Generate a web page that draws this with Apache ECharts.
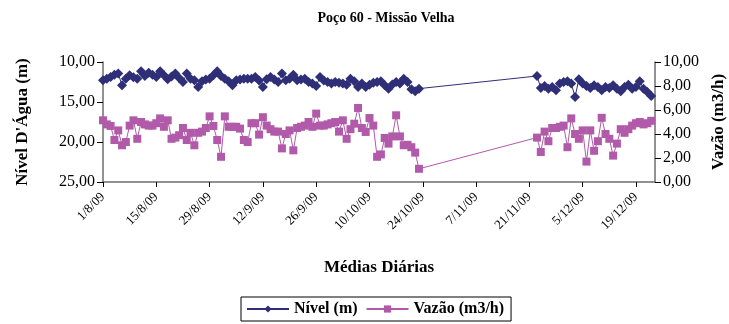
<!DOCTYPE html>
<html><head><meta charset="utf-8">
<script src="https://cdn.jsdelivr.net/npm/echarts@6/dist/echarts.min.js"></script>
<style>html,body{margin:0;padding:0;background:#fff}#c{width:729px;height:324px}</style>
</head><body><div id="c"></div>
<script>
const titleText = 'Poço 60 - Missão Velha';
const xName = 'Médias Diárias';
const leftName = "Nível D'Água (m)";
const rightName = 'Vazão (m3/h)';
const nivelName = 'Nível (m)';
const vazaoName = 'Vazão (m3/h)';

const axisStart = '2009-08-01';
const axisEnd = '2009-12-24';
const tickDays = 14;

// first block of daily means (consecutive days from seg1Start)
const seg1Start = '2009-08-01';
const nivel1 = [12.29,12.1,11.87,11.6,11.45,12.91,12.08,11.66,11.9,12.08,
  11.16,11.75,11.33,11.6,11.87,11.16,11.66,12.16,11.8,11.45,
  12.0,12.5,11.45,12.08,12.29,13.12,12.41,12.2,12.08,11.66,
  11.16,11.75,12.1,12.41,12.91,12.29,12.2,12.08,12.1,12.08,
  11.87,12.3,13.12,12.16,11.87,12.2,12.5,11.45,12.29,12.08,
  11.58,12.29,12.2,12.08,12.5,12.7,13.0,11.87,12.3,12.5,
  12.7,12.5,12.6,12.7,12.83,12.08,12.4,13.12,12.7,13.12,
  12.83,12.58,12.5,12.41,12.91,13.33,12.8,12.5,12.7,12.08,
  12.5,13.41,13.66,13.33];
const vazao1 = [5.14,4.8,4.67,3.5,4.3,3.06,3.33,4.7,5.14,3.6,
  5.0,4.8,4.7,4.7,4.9,5.3,4.6,5.14,3.6,3.7,
  3.9,4.5,3.5,4.1,3.06,4.1,4.2,4.5,5.47,4.67,
  3.5,2.1,5.47,4.6,4.6,4.6,4.45,3.5,3.33,4.9,
  4.9,3.95,5.4,4.7,4.4,4.2,4.2,2.8,4.0,4.3,
  2.64,4.5,4.6,4.7,5.0,4.6,5.7,4.7,4.7,4.8,
  4.9,5.0,4.2,5.14,3.6,4.4,4.86,6.17,4.5,4.17,
  5.33,4.7,2.1,2.3,3.67,3.2,3.8,5.56,3.8,3.06,
  3.1,2.9,2.45,1.1];

// second block of daily means
const seg2Start = '2009-11-23';
const nivel2 = [11.75,13.25,13.0,13.33,13.12,13.54,12.7,12.5,12.41,12.7,
  14.37,12.16,12.7,13.0,13.25,12.91,13.12,13.54,13.12,13.25,
  12.91,13.33,13.66,13.12,12.83,13.33,13.12,12.41,13.33,13.75,
  14.25];
const vazao2 = [3.7,2.5,4.2,3.4,4.5,4.5,4.6,4.7,2.9,5.3,
  4.0,3.6,4.3,1.7,4.3,2.6,3.4,5.35,4.0,3.6,
  2.2,3.2,4.4,4.1,4.4,4.7,4.9,5.0,4.8,4.9,
  5.1];

const leftMin = 10, leftMax = 25, leftStep = 5;
const rightMin = 0, rightMax = 10, rightStep = 2;

const DAY = 86400000;
function toUTC(s){ const p = s.split('-').map(Number); return Date.UTC(p[0], p[1]-1, p[2]); }
const t0 = toUTC(axisStart);
function dayOf(s){ return Math.round((toUTC(s) - t0) / DAY); }
function pairs(start, vals){ const d0 = dayOf(start); return vals.map((v,i)=>[d0+i, v]); }
function fmtDate(v){
  const d = new Date(t0 + v*DAY);
  return d.getUTCDate() + '/' + (d.getUTCMonth()+1) + '/' + String(d.getUTCFullYear()).slice(2);
}
function fmtNum(v){ return v.toFixed(2).replace('.', ','); }

const nivelData = pairs(seg1Start, nivel1).concat(pairs(seg2Start, nivel2));
const vazaoData = pairs(seg1Start, vazao1).concat(pairs(seg2Start, vazao2));

const FONT = 'Liberation Serif';
const NAVY = '#2f2f78';
const MAG = '#b25aaa';
const AX = '#6e6e6e';

const chart = echarts.init(document.getElementById('c'), null, {renderer:'canvas'});
chart.setOption({
  backgroundColor: '#ffffff',
  animation: false,
  textStyle: {fontFamily: FONT, color: '#000'},
  title: {
    text: titleText, left: 381, top: 6, textAlign: 'center',
    textStyle: {fontFamily: FONT, fontSize: 14, fontWeight: 'bold', color: '#000'}
  },
  grid: {left: 103, right: 74, top: 62, height: 120, containLabel: false, outerBoundsMode: 'none'},
  legend: {
    left: 241, top: 297, orient: 'horizontal',
    padding: [4, 7, 4, 5], itemGap: 8, itemWidth: 42, itemHeight: 9,
    borderColor: '#000', borderWidth: 1,
    textStyle: {fontFamily: FONT, fontSize: 16, fontWeight: 'bold', color: '#000'},
    data: [nivelName, vazaoName]
  },
  xAxis: {
    type: 'value', min: dayOf(axisStart), max: dayOf(axisEnd), interval: tickDays,
    name: xName, nameLocation: 'middle', nameGap: 77,
    nameTextStyle: {fontFamily: FONT, fontSize: 17, fontWeight: 'bold', color: '#000'},
    axisLine: {show: true, lineStyle: {color: AX, width: 1.5}},
    axisTick: {show: true, inside: false, length: 5, lineStyle: {color: '#000'}},
    splitLine: {show: false},
    axisLabel: {
      rotate: 45, margin: 13, fontFamily: FONT, fontSize: 13, color: '#000',
      showMaxLabel: false,
      formatter: v => (v % tickDays === 0 ? fmtDate(v) : '')
    }
  },
  yAxis: [{
    type: 'value', position: 'left', inverse: true,
    min: leftMin, max: leftMax, interval: leftStep,
    name: leftName, nameLocation: 'middle', nameGap: 72, nameRotate: 90,
    nameTextStyle: {fontFamily: FONT, fontSize: 17, fontWeight: 'bold', color: '#000'},
    axisLine: {show: true, lineStyle: {color: AX, width: 1.5}},
    axisTick: {show: true, inside: false, length: 6, lineStyle: {color: '#000'}},
    splitLine: {show: false},
    axisLabel: {margin: 8, fontFamily: FONT, fontSize: 16, color: '#000', formatter: fmtNum}
  }, {
    type: 'value', position: 'right',
    min: rightMin, max: rightMax, interval: rightStep,
    name: rightName, nameLocation: 'middle', nameGap: 53, nameRotate: 90,
    nameTextStyle: {fontFamily: FONT, fontSize: 17, fontWeight: 'bold', color: '#000'},
    axisLine: {show: true, lineStyle: {color: AX, width: 1.5}},
    axisTick: {show: true, inside: false, length: 6, lineStyle: {color: '#000'}},
    splitLine: {show: false},
    axisLabel: {margin: 8, fontFamily: FONT, fontSize: 16, color: '#000', formatter: fmtNum}
  }],
  series: [{
    name: nivelName, type: 'line', yAxisIndex: 0, data: nivelData,
    symbol: 'diamond', symbolSize: 10, showAllSymbol: true,
    lineStyle: {color: NAVY, width: 1}, itemStyle: {color: NAVY}
  }, {
    name: vazaoName, type: 'line', yAxisIndex: 1, data: vazaoData,
    symbol: 'rect', symbolSize: 8, showAllSymbol: true,
    lineStyle: {color: MAG, width: 1}, itemStyle: {color: MAG}
  }]
});
</script>
</body></html>
